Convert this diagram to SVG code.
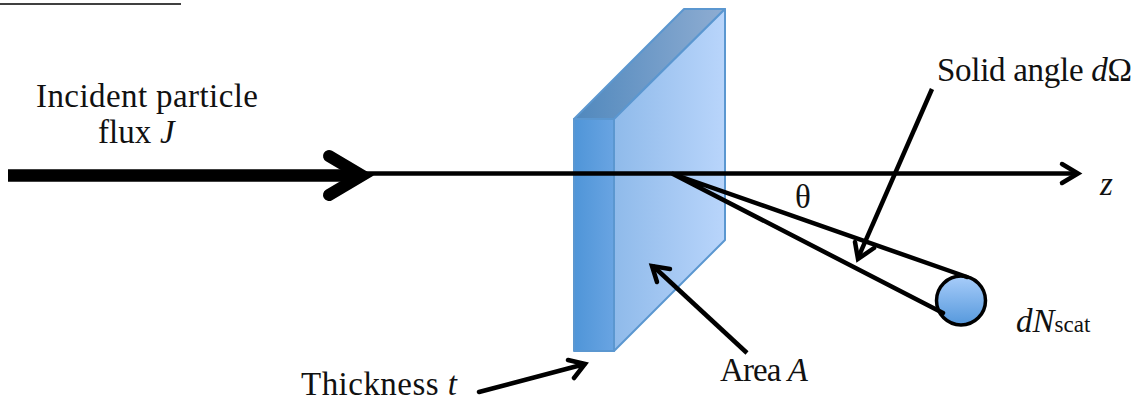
<svg xmlns="http://www.w3.org/2000/svg" width="1136" height="402" viewBox="0 0 1136 402">
<style>
text{font-family:"Liberation Serif","Times New Roman",serif;font-size:33px;fill:#111}
.i{font-style:italic}
.l{fill:none;stroke:#000;stroke-width:4.5;stroke-linejoin:miter;stroke-miterlimit:10}
.e{stroke:#5b97d0;stroke-width:2;stroke-linejoin:round}
</style>
<defs>
<linearGradient id="front"><stop offset="0" stop-color="#8fbaea"/><stop offset="1" stop-color="#b9d5fb"/></linearGradient>
<linearGradient id="side"><stop offset="0" stop-color="#4f95d8"/><stop offset="1" stop-color="#69a4e2"/></linearGradient>
<linearGradient id="top"><stop offset="0" stop-color="#5088bd"/><stop offset="1" stop-color="#8fadd2"/></linearGradient>
<linearGradient id="ball" x1="0" y1="0" x2="0" y2="1"><stop offset="0" stop-color="#a8cdfa"/><stop offset="1" stop-color="#5598dc"/></linearGradient>
</defs>
<g id="header"><path d="M0 4H181" stroke="#000" stroke-width="1.5"/></g>
<g id="slab">
<path class="e" fill="url(#top)" d="M574 119L684 9H725L614 119Z"/>
<path class="e" fill="url(#side)" d="M574 119H614V351H574Z"/>
<path class="e" fill="url(#front)" d="M614 119L725 9V240L614 351Z"/>
</g>
<g id="detector"><circle cx="961" cy="300.5" r="24.5" fill="url(#ball)" stroke="#000" stroke-width="3.5"/></g>
<g id="connectors">
<path d="M8 175.500H362" stroke="#000" stroke-width="12.500"/>
<path d="M329 156L362 175.500L329 195" fill="none" stroke="#000" stroke-width="12" stroke-linecap="round" stroke-linejoin="miter" stroke-miterlimit="10"/>
<path class="l" d="M360 173.500H1077"/>
<path class="l" stroke-linecap="round" d="M1062 164L1078 173.500L1062 183"/>
<path class="l" stroke-linecap="round" d="M673 174L967 277M673 174L943 313"/>
<path class="l" d="M932 89L858 258"/>
<path class="l" stroke-linecap="round" d="M855 242L858 259L874 248"/>
<path class="l" d="M747 353L653 266"/>
<path class="l" stroke-linecap="round" d="M657 282L652 266L670 269"/>
<path class="l" stroke-linecap="round" d="M479 392L585 364M568 360L585 364L574 378"/>
</g>
<g id="labels">
<text x="36" y="107" textLength="222">Incident particle</text>
<text x="98" y="143">flux <tspan class="i" x="160">J</tspan></text>
<text x="937" y="81" textLength="195">Solid angle <tspan class="i">d</tspan>Ω</text>
<text x="1100" y="195" class="i">z</text>
<text x="795" y="208">θ</text>
<text x="1016" y="332" class="i">dN<tspan style="font-style:normal;font-size:23px">scat</tspan></text>
<text x="720" y="381" textLength="88">Area <tspan class="i">A</tspan></text>
<text x="301" y="395" textLength="156">Thickness <tspan class="i">t</tspan></text>
</g>
</svg>
